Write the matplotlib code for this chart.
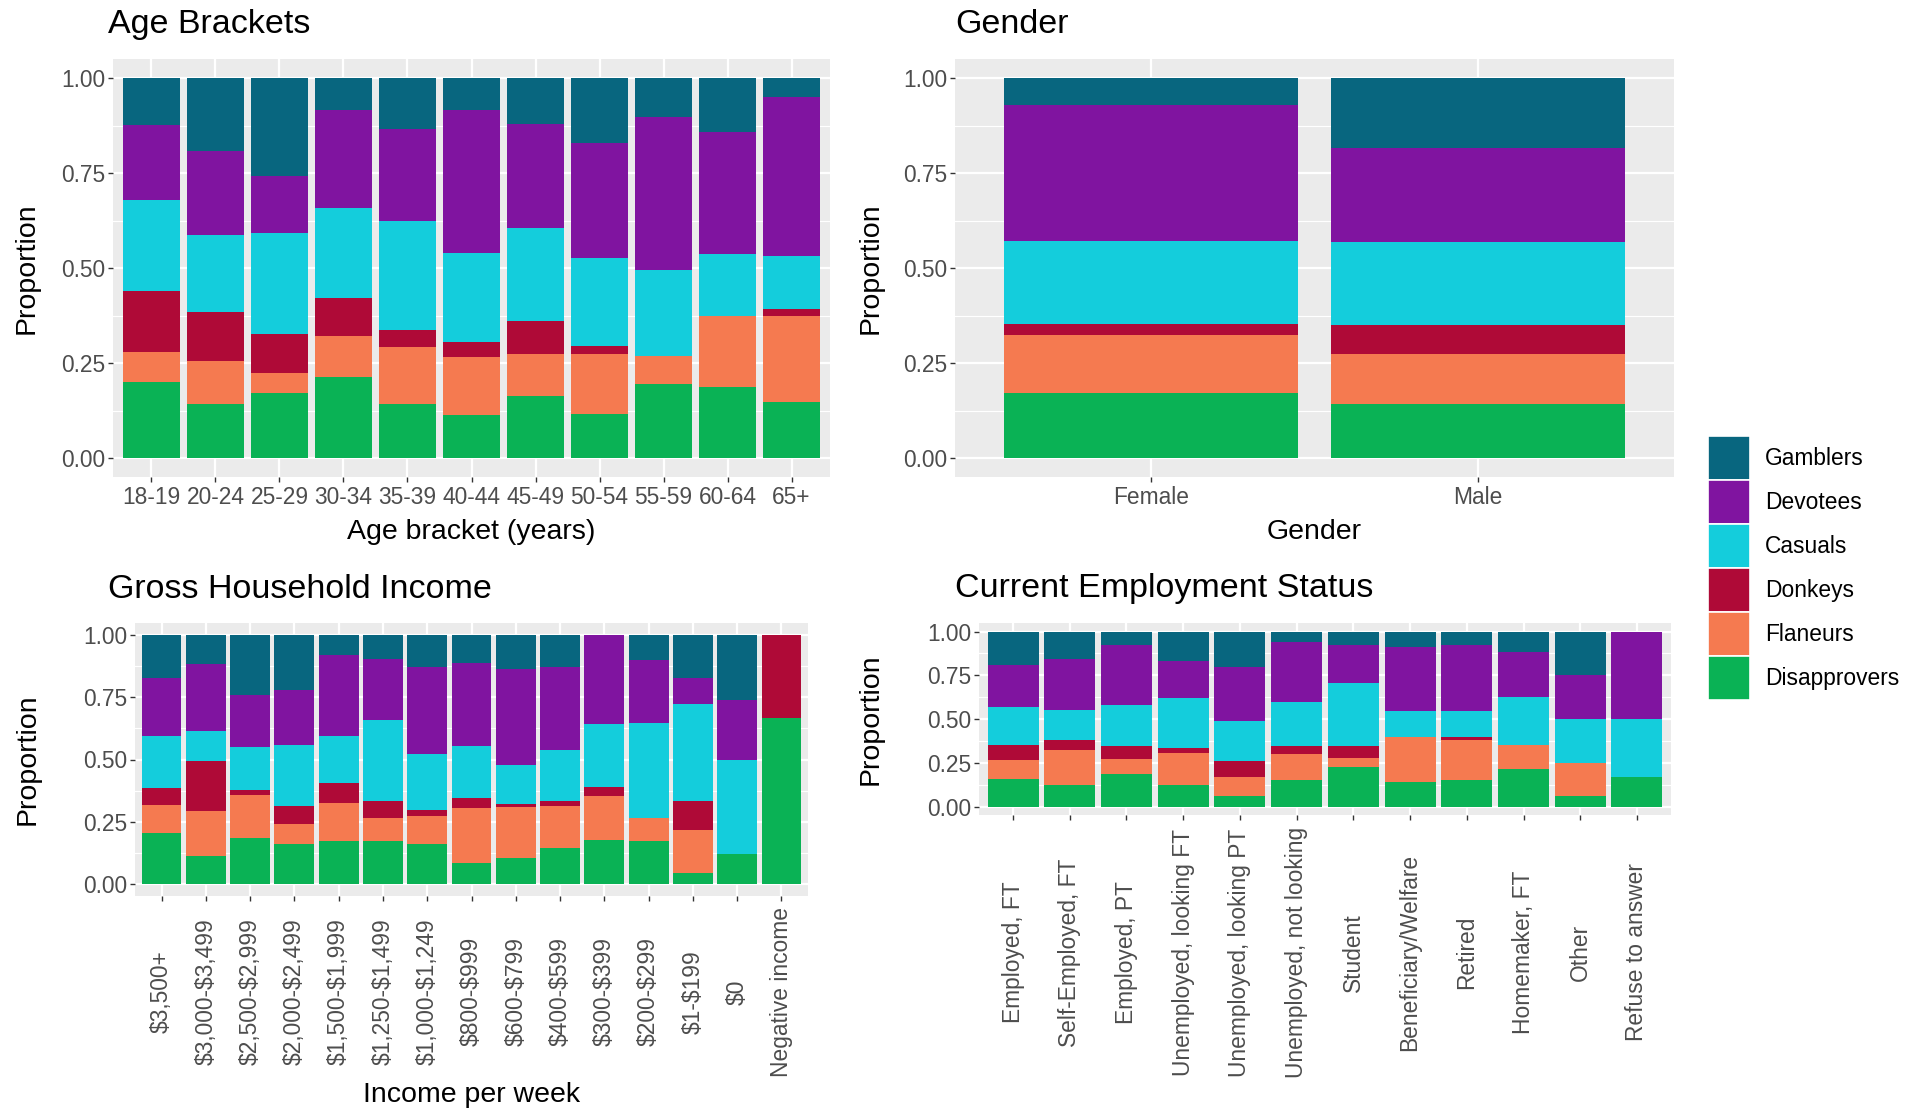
import numpy as np
import matplotlib.pyplot as plt
from matplotlib.patches import Patch

plt.rcParams['font.family'] = ['Liberation Sans', 'DejaVu Sans']

# ------------------------------------------------------------
# datos (proporciones)
# ------------------------------------------------------------
grupos = ["Disapprovers", "Flaneurs", "Donkeys", "Casuals", "Devotees", "Gamblers"]  # de abajo hacia arriba
colores = {"Gamblers": "#08667F", "Devotees": "#8014A0", "Casuals": "#14CDDC",
           "Donkeys": "#AF0A37", "Flaneurs": "#F57A50", "Disapprovers": "#0AB255"}

age_labels = ["18-19", "20-24", "25-29", "30-34", "35-39", "40-44", "45-49", "50-54", "55-59", "60-64", "65+"]
age_disapprovers = [.199, .142, .170, .212, .142, .114, .164, .116, .196, .188, .147]
age_flaneurs     = [.079, .114, .053, .109, .151, .152, .109, .157, .073, .186, .227]
age_donkeys      = [.161, .127, .103, .099, .043, .038, .088, .022, .000, .000, .017]
age_casuals      = [.240, .205, .266, .238, .288, .236, .244, .232, .227, .163, .140]
age_devotees     = [.197, .220, .149, .257, .243, .375, .275, .301, .402, .320, .419]
age_gamblers     = [.124, .192, .259, .085, .133, .085, .120, .172, .102, .143, .050]

gender_labels = ["Female", "Male"]
gender_disapprovers = [.170, .142]
gender_flaneurs     = [.154, .133]
gender_donkeys      = [.028, .075]
gender_casuals      = [.218, .218]
gender_devotees     = [.358, .249]
gender_gamblers     = [.072, .183]

income_labels = ["$3,500+", "$3,000-$3,499", "$2,500-$2,999", "$2,000-$2,499", "$1,500-$1,999",
                 "$1,250-$1,499", "$1,000-$1,249", "$800-$999", "$600-$799", "$400-$599",
                 "$300-$399", "$200-$299", "$1-$199", "$0", "Negative income"]
income_disapprovers = [.205, .111, .185, .161, .172, .174, .161, .084, .105, .145, .178, .172, .044, .121, .667]
income_flaneurs     = [.114, .181, .174, .078, .154, .089, .111, .222, .203, .170, .177, .091, .174, .000, .000]
income_donkeys      = [.067, .201, .020, .073, .080, .069, .027, .040, .014, .017, .034, .000, .117, .000, .333]
income_casuals      = [.208, .121, .171, .248, .188, .325, .224, .208, .155, .208, .254, .384, .386, .375, .000]
income_devotees     = [.232, .268, .211, .221, .326, .245, .348, .335, .385, .331, .357, .251, .107, .245, .000]
income_gamblers     = [.174, .118, .239, .219, .080, .098, .129, .111, .138, .129, .000, .102, .172, .259, .000]

empleo_labels = ["Employed, FT", "Self-Employed, FT", "Employed, PT", "Unemployed, looking FT",
                 "Unemployed, looking PT", "Unemployed, not looking", "Student", "Beneficiary/Welfare",
                 "Retired", "Homemaker, FT", "Other", "Refuse to answer"]
empleo_disapprovers = [.155, .124, .187, .124, .063, .149, .226, .143, .149, .216, .0625, .167]
empleo_flaneurs     = [.109, .197, .086, .184, .105, .153, .051, .255, .230, .138, .1875, .000]
empleo_donkeys      = [.086, .058, .073, .029, .090, .044, .069, .000, .019, .000, .000, .000]
empleo_casuals      = [.220, .172, .237, .284, .230, .253, .358, .147, .147, .273, .250, .333]
empleo_devotees     = [.239, .292, .341, .211, .311, .344, .220, .369, .379, .258, .250, .500]
empleo_gamblers     = [.191, .157, .076, .168, .201, .057, .076, .086, .076, .115, .250, .000]

W, H = 1919, 1112


def rect(x0, y0, x1, y1):  # pixeles -> fraccion de figura
    return [x0 / W, 1 - y1 / H, (x1 - x0) / W, (y1 - y0) / H]


def dibujar_panel(ax, etiquetas, series):
    x = np.arange(len(etiquetas))
    valores = np.array(series, dtype=float)
    valores = valores / valores.sum(axis=0)  # como position="fill"
    base = np.zeros(len(etiquetas))
    for nombre, fila in zip(grupos, valores):
        ax.bar(x, fila, 0.9, bottom=base, color=colores[nombre], linewidth=0, zorder=3)
        base += fila

    ax.set_facecolor("#EBEBEB")
    ax.set_xlim(-0.6, len(etiquetas) - 0.4)
    ax.set_ylim(-0.05, 1.05)
    ax.set_yticks([0, 0.25, 0.5, 0.75, 1.0])
    ax.set_yticklabels(["0.00", "0.25", "0.50", "0.75", "1.00"])
    ax.set_yticks([0.125, 0.375, 0.625, 0.875], minor=True)
    ax.set_xticks(x)
    ax.grid(True, which="major", color="white", linewidth=1.6, zorder=0)
    ax.grid(True, which="minor", axis="y", color="white", linewidth=0.8, zorder=0)
    ax.set_axisbelow(True)
    for s in ax.spines.values():
        s.set_visible(False)
    ax.tick_params(axis="both", which="major", length=3.7, width=1, color="#333333",
                   labelcolor="#4D4D4D", labelsize=16.4)
    ax.tick_params(axis="y", pad=2)
    ax.tick_params(axis="y", which="minor", length=0)
    ax.set_ylabel("Proportion", fontsize=20.5, va="center")


fig = plt.figure(figsize=(W / 100, H / 100), dpi=100)

# edad
ax1 = fig.add_axes(rect(113, 59, 830, 477))
dibujar_panel(ax1, age_labels, [age_disapprovers, age_flaneurs, age_donkeys,
                                age_casuals, age_devotees, age_gamblers])
ax1.set_xticklabels(age_labels)
ax1.tick_params(axis="x", pad=3)
ax1.set_xlabel("Age bracket (years)", fontsize=20.5, va="center")
ax1.xaxis.set_label_coords(0.5, -0.1316)
ax1.yaxis.set_label_coords(-0.12, 0.5)

# genero
ax2 = fig.add_axes(rect(955, 59, 1674, 477))
dibujar_panel(ax2, gender_labels, [gender_disapprovers, gender_flaneurs, gender_donkeys,
                                   gender_casuals, gender_devotees, gender_gamblers])
ax2.set_xticklabels(gender_labels)
ax2.tick_params(axis="x", pad=3)
ax2.set_xlabel("Gender", fontsize=20.5, va="center")
ax2.xaxis.set_label_coords(0.5, -0.1316)
ax2.yaxis.set_label_coords(-0.117, 0.5)

# ingresos
ax3 = fig.add_axes(rect(135, 622.6, 808, 896.4))
dibujar_panel(ax3, income_labels, [income_disapprovers, income_flaneurs, income_donkeys,
                                   income_casuals, income_devotees, income_gamblers])
ax3.set_xticklabels([e.replace("$", r"\$") for e in income_labels],
                    rotation=90, ha="center", va="center")
ax3.tick_params(axis="x", pad=65)
ax3.set_xlabel("Income per week", fontsize=20.5, va="center")
ax3.xaxis.set_label_coords(0.5, -0.725)
ax3.yaxis.set_label_coords(-0.16, 0.5)

# empleo
ax4 = fig.add_axes(rect(979, 622.8, 1671, 815.3))
dibujar_panel(ax4, empleo_labels, [empleo_disapprovers, empleo_flaneurs, empleo_donkeys,
                                   empleo_casuals, empleo_devotees, empleo_gamblers])
ax4.set_xticklabels(empleo_labels, rotation=90, ha="center", va="center")
ax4.tick_params(axis="x", pad=95)
ax4.yaxis.set_label_coords(-0.156, 0.5)

# titulos
fig.text(108 / W, 1 - 24.5 / H, "Age Brackets", fontsize=24.5, va="center")
fig.text(955 / W, 1 - 24.5 / H, "Gender", fontsize=24.5, va="center")
fig.text(108 / W, 1 - 589 / H, "Gross Household Income", fontsize=24.5, va="center")
fig.text(955 / W, 1 - 589 / H, "Current Employment Status", fontsize=24.5, va="center")

# leyenda
orden = ["Gamblers", "Devotees", "Casuals", "Donkeys", "Flaneurs", "Disapprovers"]
handles = [Patch(facecolor=colores[n], edgecolor="white", linewidth=1.2) for n in orden]
fig.legend(handles, orden, loc="upper left", bbox_to_anchor=(1708 / W, 1 - 436 / H),
           frameon=False, fontsize=16.4, handlelength=1.85, handleheight=2.6,
           labelspacing=0.0, handletextpad=0.65, borderpad=0, borderaxespad=0)

fig.savefig("out.png", dpi=100)
